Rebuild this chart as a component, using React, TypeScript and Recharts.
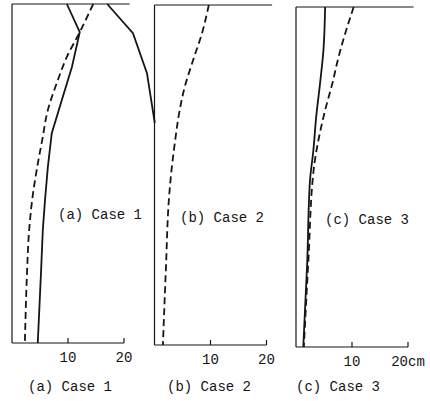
import { LineChart, Line, XAxis, YAxis, ReferenceLine } from "recharts";

// depth runs 0 (top) .. 100 (bottom); values in cm
const DEPTH_A_SOLID = [0, 8.3, 18.6, 28.3, 38.1, 48.1, 57.8, 66.7, 78.5, 100];
const A_SOLID = [9.8, 12.1, 10.7, 8.9, 7.1, 6.4, 5.9, 5.5, 5.2, 4.6];
const DEPTH_A_DASH = [0, 8.3, 15.6, 23.3, 31.3, 40.1, 48.1, 57.8, 68.1, 78.5, 100];
const A_DASH = [14.5, 12.1, 9.8, 8.0, 6.4, 5.4, 4.5, 3.6, 3.0, 2.7, 2.3];
const DEPTH_A_OUTER = [0, 8.6, 20.4, 35.1];
const A_OUTER = [17.0, 21.6, 24.1, 25.5];

const DEPTH_B_DASH = [0, 8.2, 16.2, 24.1, 31.8, 39.7, 47.6, 56.5, 77, 100];
const B_DASH = [9.7, 8.5, 6.9, 5.4, 4.4, 3.7, 3.1, 2.6, 2.05, 1.5];

const DEPTH_C_SOLID = [0, 12.7, 22.4, 32.4, 42.2, 51, 75.2, 100];
const C_SOLID = [5.2, 4.9, 4.3, 3.6, 3.1, 2.5, 2.0, 1.3];
const DEPTH_C_DASH = [0, 7.7, 14.7, 22.4, 30.4, 39.2, 47.2, 75, 100];
const C_DASH = [10.3, 8.8, 7.6, 6.5, 5.2, 4.0, 3.2, 2.2, 1.4];

const X_TICKS = [10, 20];
const TICK_LABELS_AB = ["10", "20"];
const TICK_LABELS_C = ["10", "20cm"];
const CAPTIONS = ["(a) Case 1", "(b) Case 2", "(c) Case 3"];

const zip = (depth: number[], v: number[]) => depth.map((d, i) => ({ depth: d, v: v[i] }));

const INK = "#151515";
const FONT = "'Liberation Mono', 'DejaVu Sans Mono', monospace";
const PX = 5.6;

type Series = { data: { depth: number; v: number }[]; dashed?: boolean; curve?: "linear" | "monotone" };

function Panel({
  left, plotLeft, top, bottom, xMax, width, series, labels,
}: {
  left: number; plotLeft: number; top: number; bottom: number; xMax: number; width: number;
  series: Series[]; labels: string[];
}) {
  const axisH = 24;
  const plotW = xMax * PX;
  const tick = ({ x, y, payload }: any) => {
    const i = X_TICKS.indexOf(payload.value);
    return (
      <g>
        <line x1={x} x2={x} y1={y} y2={y - 5} stroke={INK} strokeWidth={1.2} />
        <text x={x} y={y + 19} textAnchor="middle" fill={INK} fontSize={14} fontFamily={FONT}>
          {labels[i]}
        </text>
      </g>
    );
  };
  return (
    <div style={{ position: "absolute", left, top: 0 }}>
      <LineChart
        layout="vertical"
        width={width}
        height={401}
        margin={{ left: plotLeft - left, right: width - (plotLeft - left) - plotW, top, bottom: 401 - bottom - axisH }}
      >
        <XAxis type="number" domain={[0, xMax]} ticks={X_TICKS} tick={tick} tickSize={0} tickMargin={0}
          tickLine={false} axisLine={false} height={axisH} interval={0} />
        <YAxis type="number" dataKey="depth" domain={[0, 100]} hide />
        <ReferenceLine x={0} stroke={INK} strokeWidth={1.2} ifOverflow="visible" />
        <ReferenceLine segment={[{ x: 0, y: 0 }, { x: 21, y: 0 }]} stroke={INK} strokeWidth={1.2} ifOverflow="visible" />
        <ReferenceLine segment={[{ x: 0, y: 100 }, { x: 20, y: 100 }]} stroke={INK} strokeWidth={1.2} ifOverflow="visible" />
        {series.map((s, i) => (
          <Line key={i} data={s.data} dataKey="v" type={s.curve ?? "linear"} stroke={INK}
            strokeWidth={1.8} strokeDasharray={s.dashed ? "7 4" : undefined}
            dot={false} activeDot={false} isAnimationActive={false} />
        ))}
      </LineChart>
    </div>
  );
}

const textStyle = (left: number, cy: number): React.CSSProperties => ({
  position: "absolute", left, top: cy - 8, lineHeight: "16px", fontSize: 14,
  fontFamily: FONT, color: INK, whiteSpace: "pre",
});

export default function App() {
  return (
    <div style={{ position: "absolute", left: 0, top: 0, width: 430, height: 401, background: "#fff", overflow: "hidden" }}>
      <Panel left={0} plotLeft={12} top={4} bottom={343} xMax={26} width={160} labels={TICK_LABELS_AB}
        series={[
          { data: zip(DEPTH_A_SOLID, A_SOLID) },
          { data: zip(DEPTH_A_DASH, A_DASH), dashed: true, curve: "monotone" },
          { data: zip(DEPTH_A_OUTER, A_OUTER) },
        ]} />
      <Panel left={140} plotLeft={154.5} top={5} bottom={345} xMax={21.5} width={145} labels={TICK_LABELS_AB}
        series={[{ data: zip(DEPTH_B_DASH, B_DASH), dashed: true, curve: "monotone" }]} />
      <Panel left={285} plotLeft={296} top={7} bottom={347} xMax={21.5} width={145} labels={TICK_LABELS_C}
        series={[
          { data: zip(DEPTH_C_SOLID, C_SOLID), curve: "monotone" },
          { data: zip(DEPTH_C_DASH, C_DASH), dashed: true, curve: "monotone" },
        ]} />
      <div style={textStyle(58, 215)}>{CAPTIONS[0]}</div>
      <div style={textStyle(180, 218)}>{CAPTIONS[1]}</div>
      <div style={textStyle(325, 220)}>{CAPTIONS[2]}</div>
      <div style={textStyle(28, 387)}>{CAPTIONS[0]}</div>
      <div style={textStyle(167, 387)}>{CAPTIONS[1]}</div>
      <div style={textStyle(296, 387)}>{CAPTIONS[2]}</div>
    </div>
  );
}
